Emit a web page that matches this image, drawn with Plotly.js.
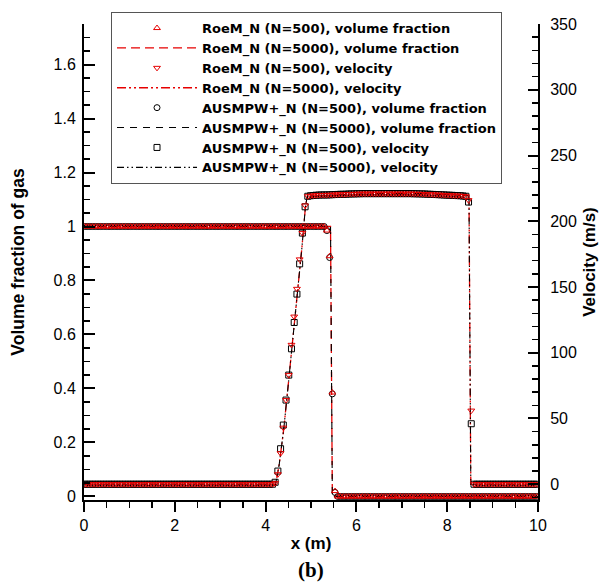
<!DOCTYPE html>
<html>
<head>
<meta charset="utf-8">
<script src="https://cdn.plot.ly/plotly-3.0.1.min.js"></script>
<style>html,body{margin:0;padding:0;background:#fff;}#chart{width:599px;height:582px;}</style>
</head>
<body>
<div id="chart"></div>
<script>
// Sample positions of the N=500 solution markers (x in m)
var xN500 = [0.01,0.07,0.13,0.19,0.25,0.31,0.37,0.43,0.49,0.55,
0.61,0.67,0.73,0.79,0.85,0.91,0.97,1.03,1.09,1.15,
1.21,1.27,1.33,1.39,1.45,1.51,1.57,1.63,1.69,1.75,
1.81,1.87,1.93,1.99,2.05,2.11,2.17,2.23,2.29,2.35,
2.41,2.47,2.53,2.59,2.65,2.71,2.77,2.83,2.89,2.95,
3.01,3.07,3.13,3.19,3.25,3.31,3.37,3.43,3.49,3.55,
3.61,3.67,3.73,3.79,3.85,3.91,3.97,4.03,4.09,4.15,
4.21,4.27,4.33,4.39,4.45,4.51,4.57,4.63,4.69,4.75,
4.81,4.87,4.93,4.99,5.05,5.11,5.17,5.23,5.29,5.35,
5.41,5.47,5.53,5.59,5.65,5.71,5.77,5.83,5.89,5.95,
6.01,6.07,6.13,6.19,6.25,6.31,6.37,6.43,6.49,6.55,
6.61,6.67,6.73,6.79,6.85,6.91,6.97,7.03,7.09,7.15,
7.21,7.27,7.33,7.39,7.45,7.51,7.57,7.63,7.69,7.75,
7.81,7.87,7.93,7.99,8.05,8.11,8.17,8.23,8.29,8.35,
8.41,8.47,8.53,8.59,8.65,8.71,8.77,8.83,8.89,8.95,
9.01,9.07,9.13,9.19,9.25,9.31,9.37,9.43,9.49,9.55,
9.61,9.67,9.73,9.79,9.85,9.91,9.97];

// RoeM_N (N=500) volume fraction
var vfRoeM500 = [1,1,1,1,1,1,1,1,1,1, 1,1,1,1,1,1,1,1,1,1,
1,1,1,1,1,1,1,1,1,1, 1,1,1,1,1,1,1,1,1,1,
1,1,1,1,1,1,1,1,1,1, 1,1,1,1,1,1,1,1,1,1,
1,1,1,1,1,1,1,1,1,1, 1,1,1,1,1,1,1,1,1,1,
1,1,1,1,1,1,1,1,1,0.985, 0.89,0.385,0.02,0,0,0,0,0,0,0,
0,0,0,0,0,0,0,0,0,0, 0,0,0,0,0,0,0,0,0,0,
0,0,0,0,0,0,0,0,0,0, 0,0,0,0,0,0,0,0,0,0,
0,0,0,0,0,0,0,0,0,0, 0,0,0,0,0,0,0,0,0,0,
0,0,0,0,0,0,0];
// AUSMPW+_N (N=500) volume fraction
var vfAus500 = [1,1,1,1,1,1,1,1,1,1, 1,1,1,1,1,1,1,1,1,1,
1,1,1,1,1,1,1,1,1,1, 1,1,1,1,1,1,1,1,1,1,
1,1,1,1,1,1,1,1,1,1, 1,1,1,1,1,1,1,1,1,1,
1,1,1,1,1,1,1,1,1,1, 1,1,1,1,1,1,1,1,1,1,
1,1,1,1,1,1,1,1,1,0.985, 0.885,0.38,0.015,0,0,0,0,0,0,0,
0,0,0,0,0,0,0,0,0,0, 0,0,0,0,0,0,0,0,0,0,
0,0,0,0,0,0,0,0,0,0, 0,0,0,0,0,0,0,0,0,0,
0,0,0,0,0,0,0,0,0,0, 0,0,0,0,0,0,0,0,0,0,
0,0,0,0,0,0,0];
// RoeM_N (N=500) velocity (m/s)
var velRoeM500 = [0,0,0,0,0,0,0,0,0,0, 0,0,0,0,0,0,0,0,0,0,
0,0,0,0,0,0,0,0,0,0, 0,0,0,0,0,0,0,0,0,0,
0,0,0,0,0,0,0,0,0,0, 0,0,0,0,0,0,0,0,0,0,
0,0,0,0,0,0,0,0,0,0,
0.8,7.6,23.6,43,64,83,106,127.5,148.6,171,
191,212,219,219.4,219.6,219.8,219.9,220,220,220,
220.1,220.2,220.3,220.4,220.5,220.5,220.6,220.7,220.8,220.8,
220.9,220.9,221,221,221,221,221,221,221,221,
221,221,221,221,221,221,221,221,221,221,
221,220.9,220.9,220.8,220.8,220.7,220.6,220.5,220.4,220.3,
220.2,220.1,220,219.9,219.8,219.7,219.6,219.5,219.4,219.2,
219,216,56,0,0,0,0,0,0,0,
0,0,0,0,0,0,0,0,0,0, 0,0,0,0,0,0,0];
// AUSMPW+_N (N=500) velocity (m/s)
var velAus500 = [0,0,0,0,0,0,0,0,0,0, 0,0,0,0,0,0,0,0,0,0,
0,0,0,0,0,0,0,0,0,0, 0,0,0,0,0,0,0,0,0,0,
0,0,0,0,0,0,0,0,0,0, 0,0,0,0,0,0,0,0,0,0,
0,0,0,0,0,0,0,0,0,0,
1.5,10,27,45,64,83,103,123,144.6,167.6,
191,211,219,219.4,219.6,219.8,219.9,220,220,220,
220.1,220.2,220.3,220.4,220.5,220.5,220.6,220.7,220.8,220.8,
220.9,220.9,221,221,221,221,221,221,221,221,
221,221,221,221,221,221,221,221,221,221,
221,220.9,220.9,220.8,220.8,220.7,220.6,220.5,220.4,220.3,
220.2,220.1,220,219.9,219.8,219.7,219.6,219.5,219.4,219.2,
219,214.6,46,0,0,0,0,0,0,0,
0,0,0,0,0,0,0,0,0,0, 0,0,0,0,0,0,0];

// N=5000 reference solutions (lines)
var xVf5000 = [0, 2, 4, 5, 5.43, 5.45, 5.47, 6, 8, 10];
var vfRoeM5000 = [1, 1, 1, 1, 1, 0.5, 0, 0, 0, 0];
var vfAus5000  = [1, 1, 1, 1, 1, 0.5, 0, 0, 0, 0];
var xVel5000 = [0, 2, 4.22, 4.3, 4.4, 4.5, 4.6, 4.7, 4.8, 4.88, 4.92, 5.5, 6.5, 7.5, 8.48, 8.5, 8.52, 9, 10];
var velRoeM5000 = [0, 0, 0, 15, 42, 76, 110, 145, 180, 212, 219, 220, 221, 221, 219.5, 110, 0, 0, 0];
var velAus5000  = [0, 0, 0, 15, 42, 76, 110, 145, 180, 212, 219, 220, 221, 221, 219.5, 110, 0, 0, 0];

var RED = '#e60000';
var FONT = 'Liberation Sans, Arial, Helvetica, sans-serif';
var LEGFONT = 'DejaVu Sans, Liberation Sans, sans-serif';

var traces = [
  {x: xVf5000, y: vfRoeM5000, mode: 'lines', name: '<b>RoeM_N (N=5000), volume fraction</b>',
   line: {color: RED, width: 1.3, dash: '9px,5px'}, legendrank: 2},
  {x: xVel5000, y: velRoeM5000, yaxis: 'y2', mode: 'lines', name: '<b>RoeM_N (N=5000), velocity</b>',
   line: {color: RED, width: 1.3, dash: '9px,3px,2px,3px,2px,3px'}, legendrank: 4},
  {x: xVf5000, y: vfAus5000, mode: 'lines', name: '<b>AUSMPW+_N (N=5000), volume fraction</b>',
   line: {color: 'black', width: 1.1, dash: '7px,6px'}, legendrank: 6},
  {x: xVel5000, y: velAus5000, yaxis: 'y2', mode: 'lines', name: '<b>AUSMPW+_N (N=5000), velocity</b>',
   line: {color: 'black', width: 1.1, dash: '7px,3px,1.5px,3px,1.5px,3px'}, legendrank: 8},
  {x: xN500, y: vfAus500, mode: 'markers', name: '<b>AUSMPW+_N (N=500), volume fraction</b>',
   marker: {symbol: 'circle-open', size: 6, color: 'black', line: {width: 1}}, legendrank: 5},
  {x: xN500, y: velAus500, yaxis: 'y2', mode: 'markers', name: '<b>AUSMPW+_N (N=500), velocity</b>',
   marker: {symbol: 'square-open', size: 6, color: 'black', line: {width: 1}}, legendrank: 7},
  {x: xN500, y: vfRoeM500, mode: 'markers', name: '<b>RoeM_N (N=500), volume fraction</b>',
   marker: {symbol: 'triangle-up-open', size: 6, color: RED, line: {width: 1}}, legendrank: 1},
  {x: xN500, y: velRoeM500, yaxis: 'y2', mode: 'markers', name: '<b>RoeM_N (N=500), velocity</b>',
   marker: {symbol: 'triangle-down-open', size: 6, color: RED, line: {width: 1}}, legendrank: 3}
];

var layout = {
  width: 599, height: 582,
  margin: {l: 84, r: 61, t: 20, b: 82},
  paper_bgcolor: 'white', plot_bgcolor: 'white',
  font: {family: FONT, color: 'black', size: 16},
  showlegend: true,
  legend: {
    x: 0.0595, y: 1.025, xanchor: 'left', yanchor: 'top',
    bgcolor: 'white', bordercolor: '#555', borderwidth: 1,
    font: {family: LEGFONT, size: 13, color: 'black'},
    itemwidth: 80, tracegroupgap: 0, traceorder: 'normal'
  },
  xaxis: {
    range: [0, 10], tick0: 0, dtick: 2,
    ticks: 'outside', ticklen: 10, tickwidth: 2, tickcolor: 'black',
    minor: {dtick: 0.5, ticks: 'outside', ticklen: 6, tickwidth: 1.5, tickcolor: 'black', showgrid: false},
    showline: true, linewidth: 2, linecolor: 'black', mirror: false,
    showgrid: false, zeroline: false,
    tickfont: {family: FONT, size: 16, color: 'black'},
    title: {text: '<b>x (m)</b>', font: {family: FONT, size: 17, color: 'black'}, standoff: 4}
  },
  yaxis: {
    range: [-0.013, 1.75], tick0: 0, dtick: 0.2,
    ticks: 'inside', ticklen: 11, tickwidth: 2, tickcolor: 'black',
    minor: {dtick: 0.05, ticks: 'inside', ticklen: 6, tickwidth: 1.5, tickcolor: 'black', showgrid: false},
    showline: true, linewidth: 2, linecolor: 'black', mirror: false,
    showgrid: false, zeroline: false, ticklabelstandoff: 3,
    tickfont: {family: FONT, size: 16, color: 'black'},
    title: {text: '<b>Volume fraction of gas</b>', font: {family: FONT, size: 17.5, color: 'black'}, standoff: 24}
  },
  yaxis2: {
    overlaying: 'y', side: 'right', anchor: 'x',
    range: [-12, 350.01], tick0: 0, dtick: 50,
    ticks: 'inside', ticklen: 10, tickwidth: 2, tickcolor: 'black',
    minor: {dtick: 10, ticks: 'inside', ticklen: 6, tickwidth: 1.5, tickcolor: 'black', showgrid: false},
    showline: true, linewidth: 2, linecolor: 'black',
    showgrid: false, zeroline: false, ticklabelstandoff: 7,
    tickfont: {family: FONT, size: 16, color: 'black'},
    title: {text: '<b>Velocity (m/s)</b>', font: {family: FONT, size: 17, color: 'black'}, standoff: 8}
  },
  annotations: [
    {text: '<b>(b)</b>', xref: 'paper', yref: 'paper', x: 0.5, y: -0.148,
     xanchor: 'center', yanchor: 'middle', showarrow: false,
     font: {family: 'Liberation Serif, Times New Roman, serif', size: 21, color: 'black'}}
  ]
};

Plotly.newPlot('chart', traces, layout, {displayModeBar: false, staticPlot: true});
</script>
</body>
</html>
